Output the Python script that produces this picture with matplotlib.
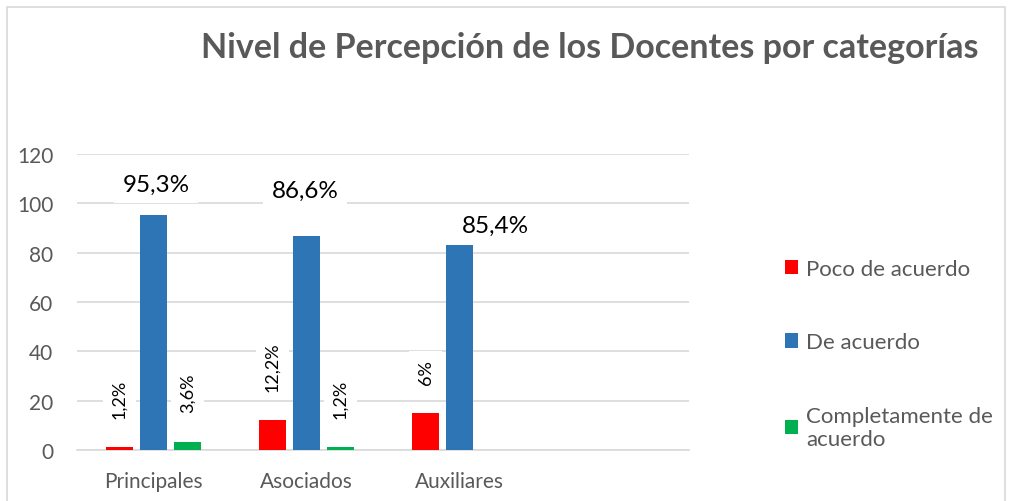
import matplotlib.pyplot as plt
import matplotlib.patches as mpatches
import numpy as np

categorias = ['Principales', 'Asociados', 'Auxiliares']
series = ['Poco de acuerdo', 'De acuerdo', 'Completamente de\nacuerdo']
poco = [1.2, 12.2, 15.0]
de_acuerdo = [95.3, 86.7, 83.1]
completo = [3.4, 1.2, np.nan]
etiq_poco = ['1,2%', '12,2%', '6%']
etiq_de = ['95,3%', '86,6%', '85,4%']
etiq_comp = ['3,6%', '1,2%', '']

colores = ['#ff0000', '#2e75b6', '#00b050']
gris = '#595959'

plt.rcParams['font.family'] = ['Lato', 'DejaVu Sans']

fig = plt.figure(figsize=(10.09, 5.02), dpi=100)
ax = fig.add_axes([77/1009, 1-451/502, (689-77)/1009, (451-155)/502])

# borde del grafico
fig.patches.append(mpatches.Rectangle((7/1009, -0.01), 998/1009, 1-8/502+0.01,
                                      transform=fig.transFigure, fill=False,
                                      edgecolor='#d9d9d9', linewidth=1.2))

x = np.arange(len(categorias))
ancho = 0.176
paso = 0.222
datos = [poco, de_acuerdo, completo]
for i, (vals, col, nom) in enumerate(zip(datos, colores, series)):
    ax.bar(x + (i-1)*paso, vals, ancho, color=col, label=nom, zorder=3)

ax.set_xlim(-0.5, 3.5)
ax.set_ylim(0, 120)
ax.set_yticks(range(0, 121, 20))
ax.set_xticks(x)
ax.set_xticklabels(categorias)
ax.tick_params(length=0, labelsize=15, colors=gris)
ax.tick_params(axis='x', pad=15)
ax.tick_params(axis='y', pad=17)
ax.grid(axis='y', color='#d9d9d9', linewidth=1.2, zorder=0)
for s in ['top', 'right', 'left']:
    ax.spines[s].set_visible(False)
ax.spines['bottom'].set_color('#d9d9d9')
ax.spines['bottom'].set_linewidth(1.2)

caja = dict(facecolor='white', edgecolor='none', pad=6)

# etiquetas verticales
for vals, etiq, k in [(poco, etiq_poco, -1), (completo, etiq_comp, 1)]:
    for j in range(len(categorias)):
        if etiq[j] == '':
            continue
        ax.annotate(etiq[j], (x[j] + k*paso, vals[j]), xytext=(0, 21),
                    textcoords='offset points', rotation=90, ha='center',
                    va='bottom', fontsize=13, color='black', bbox=caja, zorder=4)

# etiquetas grandes de "De acuerdo"
desplaz = [(2, 22), (-1, 33), (26, 14)]
for j in range(len(categorias)):
    ax.annotate(etiq_de[j], (x[j], de_acuerdo[j]), xytext=desplaz[j],
                textcoords='offset points', ha='center', va='center',
                fontsize=17.5, color='black', bbox=caja, zorder=4)

fig.text(590/1009, 1-48/502, 'Nivel de Percepción de los Docentes por categorías',
         ha='center', va='center', fontsize=24.5, fontweight='bold', color=gris)

ax.legend(loc='upper left', bbox_to_anchor=(785/1009, 1-260/502),
          bbox_transform=fig.transFigure, frameon=False, fontsize=16,
          labelcolor=gris, handlelength=0.6, handleheight=0.6,
          handletextpad=0.35, labelspacing=2.4, borderaxespad=0, borderpad=0)

fig.savefig('out.png', dpi=100)
